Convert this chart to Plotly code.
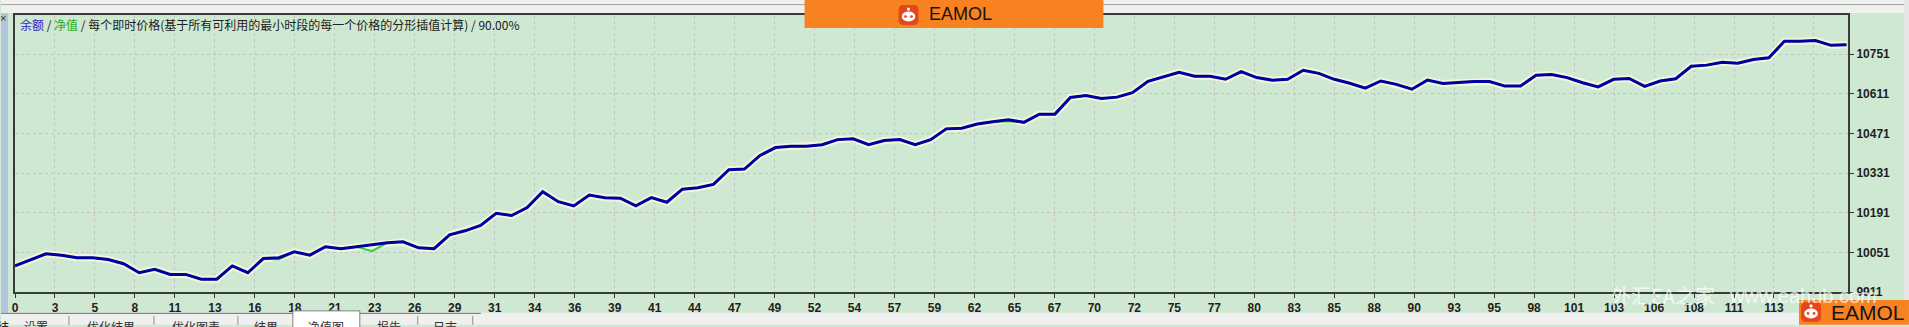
import plotly.graph_objects as go

# ---------------- data ----------------
balance = [
    10003, 10025, 10046, 10041, 10032, 10032, 10026, 10011, 9979, 9991,
    9973, 9973, 9956, 9956, 10003, 9979, 10029, 10032, 10053, 10041,
    10071, 10064, 10071, 10078, 10085, 10088, 10067, 10064, 10113, 10127,
    10146, 10189, 10181, 10209, 10265, 10230, 10215, 10253, 10244, 10242,
    10215, 10244, 10228, 10274, 10279, 10291, 10343, 10345, 10393, 10421,
    10426, 10426, 10431, 10449, 10452, 10431, 10446, 10449, 10431, 10449,
    10487, 10489, 10504, 10512, 10519, 10510, 10539, 10539, 10598, 10605,
    10594, 10599, 10615, 10655, 10671, 10687, 10673, 10673, 10662, 10689,
    10668, 10659, 10662, 10694, 10683, 10662, 10648, 10631, 10656, 10644,
    10627, 10659, 10647, 10650, 10654, 10654, 10638, 10638, 10676, 10679,
    10668, 10650, 10635, 10662, 10665, 10637, 10656, 10664, 10708, 10712,
    10722, 10719, 10732, 10738, 10796, 10796, 10799, 10782, 10784,
]
equity = [
    10003, 10025, 10046, 10041, 10032, 10032, 10026, 10011, 9979, 9991,
    9973, 9973, 9956, 9956, 10003, 9979, 10029, 10026, 10053, 10041,
    10071, 10064, 10071, 10055, 10085, 10088, 10067, 10064, 10113, 10127,
    10146, 10189, 10181, 10209, 10265, 10230, 10215, 10253, 10244, 10242,
    10215, 10244, 10228, 10274, 10279, 10291, 10343, 10345, 10393, 10421,
    10426, 10426, 10431, 10449, 10452, 10431, 10446, 10449, 10431, 10449,
    10487, 10489, 10504, 10512, 10514, 10510, 10539, 10539, 10598, 10605,
    10594, 10599, 10615, 10655, 10671, 10687, 10673, 10673, 10662, 10689,
    10668, 10659, 10662, 10694, 10683, 10662, 10648, 10631, 10656, 10644,
    10627, 10659, 10647, 10650, 10654, 10654, 10638, 10638, 10676, 10679,
    10668, 10650, 10635, 10662, 10665, 10637, 10656, 10664, 10708, 10712,
    10722, 10719, 10732, 10738, 10796, 10796, 10799, 10782, 10784,
]
trades = list(range(len(balance)))

x_tick_labels = [0, 3, 5, 8, 11, 13, 16, 18, 21, 23, 26, 29, 31, 34, 36, 39,
                 41, 44, 47, 49, 52, 54, 57, 59, 62, 65, 67, 70, 72, 75, 77, 80,
                 83, 85, 88, 90, 93, 95, 98, 101, 103, 106, 108, 111, 113, 116]
y_tick_values = [9911, 10051, 10191, 10331, 10471, 10611, 10751]

tab_labels = ["设置", "优化结果", "优化图表", "结果", "净值图", "报告", "日志"]

# ---------------- layout constants ----------------
W, H = 1909, 327
L, R, T, B = 14, 1848, 15, 294
X_MAX = 118.1
Y_MIN, Y_MAX = 9911, 10889
TICK_STEP = 2.5757

GREEN_BG = "#CFE8D2"
ORANGE = "#F7821F"


def PX(px):
    return (px - L) / (R - L)


def PY(py):
    return (B - py) / (B - T)


fig = go.Figure()

# halo under the balance line
fig.add_trace(go.Scatter(x=trades, y=balance, mode="lines",
                         line=dict(color="#F3F7DA", width=7),
                         hoverinfo="skip", showlegend=False))
fig.add_trace(go.Scatter(x=trades, y=equity, mode="lines",
                         line=dict(color="#3FCB3F", width=2),
                         hoverinfo="skip", showlegend=False))
fig.add_trace(go.Scatter(x=trades, y=balance, mode="lines",
                         line=dict(color="#0000A2", width=3),
                         hoverinfo="skip", showlegend=False))

tick_font = dict(family="Liberation Sans", size=12, color="#1E1E1E", weight="bold")

fig.update_xaxes(
    range=[0, X_MAX],
    tickvals=[i * TICK_STEP for i in range(len(x_tick_labels))],
    ticktext=[str(v) for v in x_tick_labels],
    tickfont=tick_font,
    ticks="outside", ticklen=4, tickwidth=1, tickcolor="#333333",
    showline=True, linecolor="#3A3A3A", linewidth=2, mirror=True,
    showgrid=True, gridcolor="#CBBDC9", griddash="dot", gridwidth=1,
    zeroline=False, fixedrange=True,
)
fig.update_yaxes(
    range=[Y_MIN, Y_MAX], side="right",
    tickvals=y_tick_values, ticktext=[str(v) for v in y_tick_values],
    tickfont=tick_font,
    ticks="outside", ticklen=4, tickwidth=1, tickcolor="#333333",
    showline=True, linecolor="#3A3A3A", linewidth=2, mirror=True,
    showgrid=True, gridcolor="#CBBDC9", griddash="dot", gridwidth=1,
    zeroline=False, fixedrange=True,
)

shapes = []


def rect(x0, y0, x1, y1, fill, line_color=None, lw=0, layer="above"):
    shapes.append(dict(type="rect", xref="paper", yref="paper",
                       x0=PX(x0), x1=PX(x1), y0=PY(y1), y1=PY(y0),
                       fillcolor=fill, layer=layer,
                       line=dict(color=line_color or fill, width=lw)))


def hline(x0, x1, y, color, lw=1):
    shapes.append(dict(type="line", xref="paper", yref="paper",
                       x0=PX(x0), x1=PX(x1), y0=PY(y), y1=PY(y),
                       line=dict(color=color, width=lw), layer="above"))


def vline(x, y0, y1, color, lw=1):
    shapes.append(dict(type="line", xref="paper", yref="paper",
                       x0=PX(x), x1=PX(x), y0=PY(y0), y1=PY(y1),
                       line=dict(color=color, width=lw), layer="above"))


def circle(cx, cy, rx, ry, fill):
    shapes.append(dict(type="circle", xref="paper", yref="paper",
                       x0=PX(cx - rx), x1=PX(cx + rx), y0=PY(cy + ry), y1=PY(cy - ry),
                       fillcolor=fill, line=dict(width=0), layer="above"))


# window chrome
rect(0, 0, W, 13, "#EEF1EE")
hline(0, W, 4.5, "#A0A0A0", 1)
rect(0, 13, 7, 316, "#B3C5DE")
rect(1904, 0, W, H, "#E6E6E6")
rect(0, 315, W, H, "#F0F0F0")
hline(0, 480, 315.5, "#6E6E6E", 1)
rect(292, 313, 359, 330, "#FFFFFF", "#808080", 1)
for sx in [68, 153, 237, 417, 472]:
    vline(sx, 318, 327, "#8C8C8C", 1)


# logos
def logo(x0, y0, x1, y1, ix, iy, isz, tx, tsz):
    rect(x0, y0, x1, y1, ORANGE)
    r = isz * 0.25
    a, b, c, d = PX(ix), PX(ix + isz), PY(iy), PY(iy + isz)
    rx, ry = r / (R - L), r / (B - T)
    path = (f"M {a+rx},{c} L {b-rx},{c} Q {b},{c} {b},{c-ry} L {b},{d+ry} "
            f"Q {b},{d} {b-rx},{d} L {a+rx},{d} Q {a},{d} {a},{d+ry} "
            f"L {a},{c-ry} Q {a},{c} {a+rx},{c} Z")
    shapes.append(dict(type="path", xref="paper", yref="paper", path=path,
                       fillcolor="#E5461B", line=dict(width=0), layer="above"))
    cx = ix + isz / 2
    circle(cx, iy + isz * 0.58, isz * 0.34, isz * 0.25, "#FFFFFF")
    circle(cx, iy + isz * 0.2, isz * 0.08, isz * 0.08, "#FFFFFF")
    circle(cx - isz * 0.15, iy + isz * 0.58, isz * 0.07, isz * 0.07, "#E5461B")
    circle(cx + isz * 0.15, iy + isz * 0.58, isz * 0.07, isz * 0.07, "#E5461B")
    return dict(x=PX(tx), y=PY((y0 + y1) / 2), xref="paper", yref="paper",
                text="EAMOL", showarrow=False, xanchor="left", yanchor="middle",
                font=dict(family="Liberation Sans", size=tsz, color="#151515"))


annotations = []
annotations.append(logo(804, 0, 1103, 28, 898, 5, 20, 926, 18))
annotations.append(logo(1799, 302, 1909, 327, 1801, 304, 20, 1829, 21))

# chart title
title = ('<span style="color:#1F2BC8">余额</span> / '
         '<span style="color:#1FAE1F">净值</span> / '
         '每个即时价格(基于所有可利用的最小时段的每一个价格的分形插值计算) / 90.00%')
annotations.append(dict(x=PX(17), y=PY(25), xref="paper", yref="paper", text=title,
                        showarrow=False, xanchor="left", yanchor="middle",
                        font=dict(family="Noto Sans CJK SC", size=12, color="#202020")))

# watermark
annotations.append(dict(x=PX(1609), y=PY(298), xref="paper", yref="paper",
                        text="外汇EA之家", showarrow=False, xanchor="left", yanchor="middle",
                        font=dict(family="Noto Sans CJK SC", size=20,
                                  color="rgba(255,255,255,0.72)")))
annotations.append(dict(x=PX(1727), y=PY(298), xref="paper", yref="paper",
                        text="www.eahub.com", showarrow=False, xanchor="left", yanchor="middle",
                        font=dict(family="Liberation Sans", size=20,
                                  color="rgba(255,255,255,0.72)")))

# tabs
tab_x = [35, 110, 195, 265, 325, 388, 444]
for lbl, tx in zip(tab_labels, tab_x):
    annotations.append(dict(x=PX(tx), y=PY(318), xref="paper", yref="paper",
                            text=lbl, showarrow=False, xanchor="center", yanchor="top",
                            font=dict(family="Noto Sans CJK SC", size=12, color="#333333")))
annotations.append(dict(x=PX(2), y=PY(318), xref="paper", yref="paper", text="结",
                        showarrow=False, xanchor="center", yanchor="top",
                        font=dict(family="Noto Sans CJK SC", size=12, color="#222222")))
annotations.append(dict(x=PX(2), y=PY(18), xref="paper", yref="paper", text="×",
                        showarrow=False, xanchor="center", yanchor="middle",
                        font=dict(family="Liberation Sans", size=11, color="#333333")))

fig.update_layout(
    width=W, height=H,
    margin=dict(l=L, r=W - R, t=T, b=H - B, pad=0),
    paper_bgcolor=GREEN_BG, plot_bgcolor=GREEN_BG,
    showlegend=False, hovermode=False,
    shapes=shapes, annotations=annotations,
)

fig.write_html("out.html", config={"displayModeBar": False, "staticPlot": True})
